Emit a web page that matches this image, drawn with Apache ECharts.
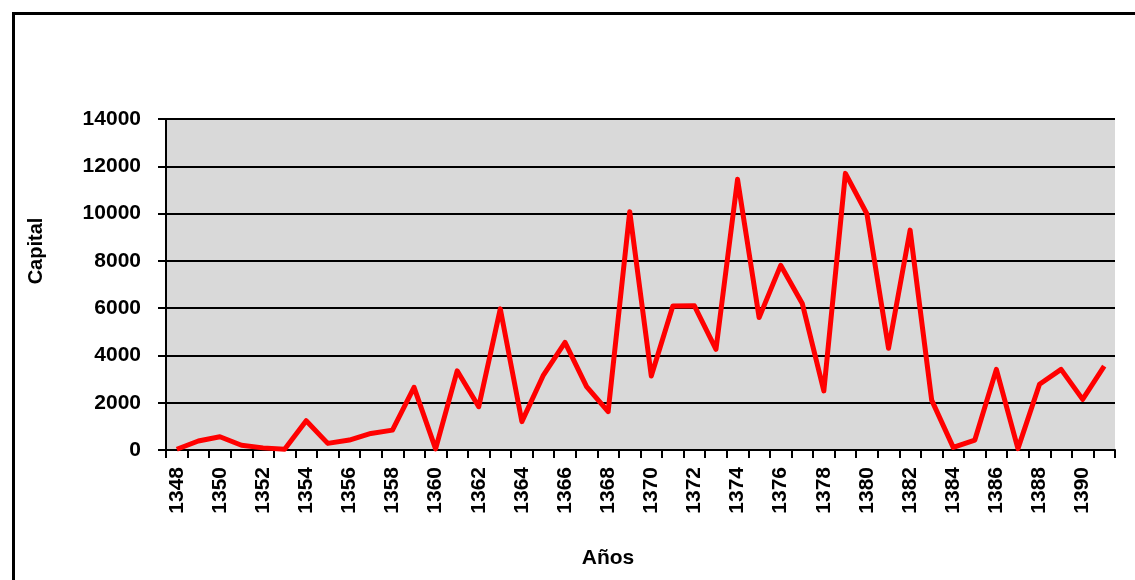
<!DOCTYPE html>
<html lang="es">
<head>
	<meta charset="UTF-8">
	<title>Capital</title>
</head>
<style>
	html, body { margin: 0; padding: 0; background: #fff; }
	#main { width: 1135px; height: 580px; }
</style>
<body>
	<div id="main"></div>
	<script src="https://cdn.jsdelivr.net/npm/echarts@6/dist/echarts.min.js"></script>
	<script>
		// datos
		var years = [1348,1349,1350,1351,1352,1353,1354,1355,1356,1357,1358,1359,1360,1361,1362,1363,1364,1365,1366,1367,1368,1369,
			1370,1371,1372,1373,1374,1375,1376,1377,1378,1379,1380,1381,1382,1383,1384,1385,1386,1387,1388,1389,1390,1391];
		var capital = [30,380,560,200,90,30,1240,280,420,700,840,2650,50,3350,1830,5970,1200,3170,4550,2680,1620,10080,
			3130,6090,6100,4260,11450,5600,7810,6200,2500,11700,9980,4300,9300,2110,110,420,3410,60,2780,3410,2140,3550];
		var yTicks = [0,2000,4000,6000,8000,10000,12000,14000];

		var font = "'Liberation Sans', Arial, sans-serif";
		var myChart = echarts.init(document.getElementById('main'));
		var option = {
			animation: false,
			backgroundColor: '#fff',
			grid: {
				left: 166, top: 119, width: 949, height: 331,
				show: true, backgroundColor: '#d9d9d9', borderWidth: 0,
				outerBoundsMode: 'none'
			},
			graphic: [
				{ type: 'rect', left: 11, top: 11, shape: { width: 1300, height: 700 },
				  style: { fill: 'none', stroke: '#000', lineWidth: 3 }, silent: true },
				{ type: 'text', x: 36, y: 251, rotation: Math.PI / 2,
				  style: { text: 'Capital', font: 'bold 20px ' + font, fill: '#000', align: 'center', verticalAlign: 'middle' } },
				{ type: 'text', x: 608, y: 558,
				  style: { text: 'Años', font: 'bold 21px ' + font, fill: '#000', align: 'center', verticalAlign: 'middle' } }
			],
			xAxis: {
				type: 'category',
				data: years,
				boundaryGap: true,
				axisLine: { lineStyle: { color: '#000', width: 2 } },
				axisTick: { show: true, interval: 0, length: 8, lineStyle: { color: '#000', width: 2 } },
				axisLabel: { interval: 1, rotate: 90, margin: 17, color: '#000', fontSize: 21, fontWeight: 'bold', fontFamily: font },
				splitLine: { show: false }
			},
			yAxis: {
				type: 'value',
				min: 0, max: yTicks[yTicks.length - 1], interval: 2000,
				axisLine: { show: true, lineStyle: { color: '#000', width: 2 } },
				axisTick: { show: true, length: 8, lineStyle: { color: '#000', width: 2 } },
				axisLabel: { margin: 25, color: '#000', fontSize: 21, fontWeight: 'bold', fontFamily: font,
					formatter: function (v) { return String(v); } },
				splitLine: { show: true, lineStyle: { color: '#000', width: 2 } }
			},
			series: [{
				type: 'line',
				data: capital,
				symbol: 'none',
				lineStyle: { color: '#ff0000', width: 5, join: 'round' }
			}]
		};
		myChart.setOption(option);
	</script>
</body>
</html>
